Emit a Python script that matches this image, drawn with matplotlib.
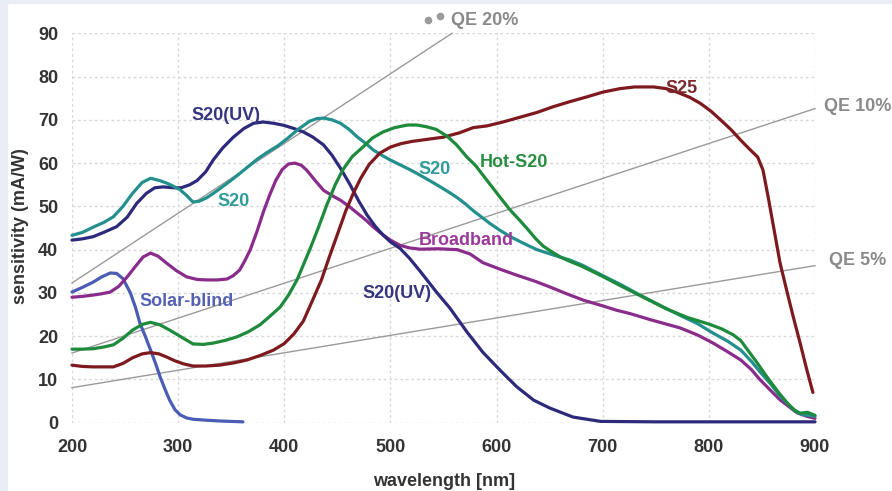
import matplotlib
matplotlib.use("Agg")
import matplotlib.pyplot as plt
from matplotlib.patches import Rectangle

plt.rcParams['font.family'] = ['Liberation Sans', 'DejaVu Sans']

# ---------------- data ----------------
x_ticks = [200, 300, 400, 500, 600, 700, 800, 900]
y_ticks = [0, 10, 20, 30, 40, 50, 60, 70, 80, 90]

s20uv_x = [200, 210, 220, 230, 242, 252, 261, 270, 278, 286, 295, 303, 311, 318, 326, 333, 342, 352,
           362, 371, 380, 390, 400, 409, 418, 427, 437, 445, 453, 462, 470, 478, 486, 493, 500, 509,
           518, 528, 544, 556, 572, 587, 603, 619, 635, 650, 672, 698, 750, 800, 850, 900]
s20uv_y = [42.2, 42.5, 43, 44, 45.3, 47.5, 50.7, 53, 54.3, 54.5, 54.3, 54.3, 55, 56, 58, 60.7, 63.5, 66,
           68, 69.2, 69.5, 69.2, 68.7, 68, 67.2, 66, 64.2, 61.8, 58.8, 55, 51.3, 48, 45.3, 43.4, 41.8, 40.3,
           38, 35, 30, 26.5, 21, 16.3, 12.2, 8.3, 5.2, 3.4, 1.3, 0.3, 0.2, 0.2, 0.2, 0.2]

s20_x = [200, 210, 220, 230, 239, 248, 257, 266, 274, 282, 289, 296, 302, 308, 314, 320, 327, 336, 346,
         355, 365, 375, 384, 394, 403, 413, 424, 431, 437, 445, 453, 461, 469, 477, 484, 492, 500, 510,
         519, 528, 538, 547, 555, 563, 571, 578, 586, 594, 603, 613, 625, 638, 653, 669, 680, 700, 718,
         735, 755, 773, 790, 804, 818, 830, 840, 848, 858, 867, 875, 883, 890, 900]
s20_y = [43.3, 44, 45.2, 46.3, 47.6, 50, 53, 55.5, 56.5, 56, 55.4, 54.6, 53.8, 52.5, 51, 51.2, 52, 53.5,
         55.3, 57, 59, 61, 62.5, 64, 65.7, 67.8, 69.7, 70.3, 70.4, 70, 69.2, 67.8, 66, 64.5, 63, 61.8,
         60.7, 59.5, 58.4, 57.2, 55.8, 54.5, 53.3, 52, 50.5, 49, 47.5, 46, 44.5, 43, 41.5, 40, 38.8, 37.6,
         36.5, 34, 31.8, 29.5, 27, 24.8, 22.8, 20.7, 18.8, 16.8, 14.2, 11.8, 9, 6.2, 4.2, 2.4, 1.8, 1.5]

hot_x = [200, 210, 220, 230, 239, 248, 257, 266, 274, 283, 292, 303, 314, 324, 333, 344, 355, 366, 377,
         386, 396, 404, 412, 418, 424, 432, 440, 448, 455, 464, 474, 483, 493, 504, 516, 525, 534, 543,
         553, 562, 572, 580, 591, 603, 613, 621, 629, 637, 644, 652, 660, 670, 680, 700, 718, 735, 760,
         780, 800, 812, 823, 830, 836, 845, 855, 865, 874, 880, 886, 893, 900]
hot_y = [17, 17, 17.1, 17.5, 18, 19.5, 21.4, 22.7, 23.2, 22.6, 21.4, 19.8, 18.2, 18.1, 18.4, 19, 19.8, 21,
         22.6, 24.5, 26.7, 29.5, 33, 36.5, 40, 45, 50.3, 55, 58.4, 61.5, 63.7, 65.8, 67.2, 68.2, 68.8,
         68.8, 68.4, 67.8, 66.3, 64.3, 61.4, 59.5, 56, 52.2, 49.1, 47, 44.8, 42.5, 40.8, 39.5, 38.3, 37.2,
         36.2, 33.8, 31.5, 29.4, 26.3, 24.3, 22.8, 21.7, 20.3, 19, 17, 14, 10.5, 7.2, 4.5, 3, 2.2, 2.4, 1.7]

s25_x = [200, 210, 220, 230, 239, 248, 257, 266, 274, 282, 289, 297, 305, 314, 326, 339, 352, 365, 378,
         390, 400, 409, 418, 427, 435, 442, 450, 458, 465, 472, 480, 490, 500, 510, 520, 535, 550, 565,
         578, 591, 606, 622, 638, 653, 669, 685, 700, 716, 730, 748, 760, 770, 782, 792, 802, 811, 821,
         830, 838, 846, 851, 856, 861, 867, 874, 880, 886, 892, 898]
s25_y = [13.3, 13, 12.9, 12.9, 12.9, 13.7, 15, 15.9, 16.2, 15.9, 15.2, 14.3, 13.6, 13.1, 13.1, 13.3, 13.8,
         14.5, 15.6, 16.8, 18.3, 20.5, 23.5, 28.5, 33, 38, 43.5, 49, 53, 56.5, 59.7, 62.3, 63.7, 64.5, 65,
         65.5, 66, 67, 68.2, 68.6, 69.5, 70.6, 71.7, 73, 74.2, 75.3, 76.4, 77.2, 77.6, 77.6, 77.2, 76.4,
         75.2, 73.8, 72, 70, 67.7, 65.3, 63.3, 61.4, 58.4, 52, 45.2, 37, 29.9, 24, 18.4, 12.5, 7]

bb_x = [200, 210, 220, 228, 236, 244, 252, 260, 267, 274, 281, 289, 298, 308, 318, 327, 337, 346, 352,
        358, 363, 368, 374, 380, 386, 392, 398, 404, 410, 416, 421, 429, 437, 445, 453, 461, 469, 477,
        484, 492, 500, 509, 518, 528, 545, 563, 575, 587, 603, 619, 635, 650, 666, 682, 700, 713, 726,
        745, 773, 790, 804, 817, 830, 840, 848, 858, 867, 875, 883, 892, 900]
bb_y = [29, 29.2, 29.5, 29.8, 30.2, 31.5, 33.7, 36.2, 38.3, 39.2, 38.5, 36.9, 35.2, 33.7, 33.1, 33, 33,
        33.2, 34, 35.3, 37.5, 40, 44, 48.5, 52.5, 56, 58.5, 59.8, 60, 59.5, 58.4, 56, 53.7, 52.5, 51.4,
        50, 48.4, 46.8, 45.2, 43.6, 42.2, 41, 40.4, 40.1, 40.2, 40, 39, 37, 35.5, 34.1, 32.8, 31.4, 29.8,
        28.3, 27, 26, 25.2, 23.8, 21.9, 20.2, 18.4, 16.5, 14.5, 12.3, 10, 7.5, 5.3, 3.8, 2.3, 1.5, 1]

sb_x = [200, 210, 220, 228, 236, 242, 248, 255, 260, 264, 269, 274, 279, 283, 288, 292, 297, 302, 308,
        314, 325, 339, 350, 361]
sb_y = [30.2, 31.3, 32.5, 33.7, 34.6, 34.5, 33.3, 30, 26.5, 23, 20, 16.8, 13.5, 10.6, 7.5, 5.2, 3, 1.8,
        1.1, 0.8, 0.6, 0.4, 0.3, 0.2]

qe20_x, qe20_y = [200, 558], [32.3, 90]
qe10_x, qe10_y = [200, 900], [16.1, 72.6]
qe5_x, qe5_y = [200, 900], [8.1, 36.3]

# ---------------- figure ----------------
W, H = 892, 491
FS = 13
fig = plt.figure(figsize=(W / 100, H / 100), dpi=100, facecolor='white')
fig.patches.append(Rectangle((0, 0), 7 / W, 1, transform=fig.transFigure, color='#e9eef4', zorder=0))
fig.patches.append(Rectangle((0, 1 - 3 / H), 1, 3 / H, transform=fig.transFigure, color='#e9eef4', zorder=0))

ax = fig.add_axes([72 / W, 1 - 422.7 / H, (815 - 72) / W, (422.7 - 33.3) / H])
ax.set_xlim(200, 900)
ax.set_ylim(0, 90)
ax.set_xticks(x_ticks)
ax.set_yticks(y_ticks)
for s in ax.spines.values():
    s.set_visible(False)
ax.grid(True, color='#d9d9d9', linestyle=(0, (2, 2)), linewidth=1.0)
ax.set_axisbelow(True)
ax.tick_params(axis='x', length=0, pad=12, labelsize=FS, labelcolor='#333333')
ax.tick_params(axis='y', length=0, pad=10, labelsize=FS, labelcolor='#333333')
for lab in ax.get_xticklabels() + ax.get_yticklabels():
    lab.set_fontweight('bold')

fig.text(444 / W, 1 - 481 / H, 'wavelength [nm]', fontsize=FS, fontweight='bold', color='#333333',
         ha='center', va='center')
fig.text(21 / W, 1 - 226 / H, 'sensitivity (mA/W)', fontsize=FS, fontweight='bold', color='#333333',
         ha='center', va='center', rotation=90)

qe_col = '#9a9a9a'
for xs, ys in [(qe20_x, qe20_y), (qe10_x, qe10_y), (qe5_x, qe5_y)]:
    ax.plot(xs, ys, color=qe_col, lw=1.0, zorder=2, clip_on=False)

lw = 2.3
series = [
    (sb_x, sb_y, '#4a5cb4'),
    (bb_x, bb_y, '#8a2c8c'),
    (s20uv_x, s20uv_y, '#2d2a7c'),
    (s20_x, s20_y, '#24908e'),
    (s25_x, s25_y, '#7e1a1e'),
    (hot_x, hot_y, '#1d8a3c'),
]
for xs, ys, c in series:
    ax.plot(xs, ys, color=c, lw=lw, zorder=3, solid_joinstyle='round', solid_capstyle='round', clip_on=False)

lab_kw = dict(fontsize=FS, fontweight='bold', ha='center', va='center', zorder=5)
ax.text(345, 71.1, 'S20(UV)', color='#35347f', **lab_kw)
ax.text(352, 51.2, 'S20', color='#2f9c9a', **lab_kw)
ax.text(542, 58.6, 'S20', color='#2f9c9a', **lab_kw)
ax.text(616, 60.2, 'Hot-S20', color='#2a8d44', **lab_kw)
ax.text(774, 77.3, 'S25', color='#7a2a2e', **lab_kw)
ax.text(571, 42.0, 'Broadband', color='#9a3a9a', **lab_kw)
ax.text(506, 29.9, 'S20(UV)', color='#35347f', **lab_kw)
ax.text(308, 28.1, 'Solar-blind', color='#5562b4', **lab_kw)

qe_kw = dict(fontsize=FS, fontweight='bold', color='#8a8a8a', ha='center', va='center', clip_on=False)
ax.text(589, 93.0, 'QE 20%', **qe_kw)
ax.text(940, 73.0, 'QE 10%', **qe_kw)
ax.text(940, 37.6, 'QE 5%', **qe_kw)
# small grey blobs left of the "QE 20%" label
ax.plot([535.5, 546.8], [93.1, 94.0], linestyle='none', marker='o', markersize=4.5,
        color='#9a9a9a', clip_on=False)

fig.savefig('out.png', dpi=100, facecolor='white')
